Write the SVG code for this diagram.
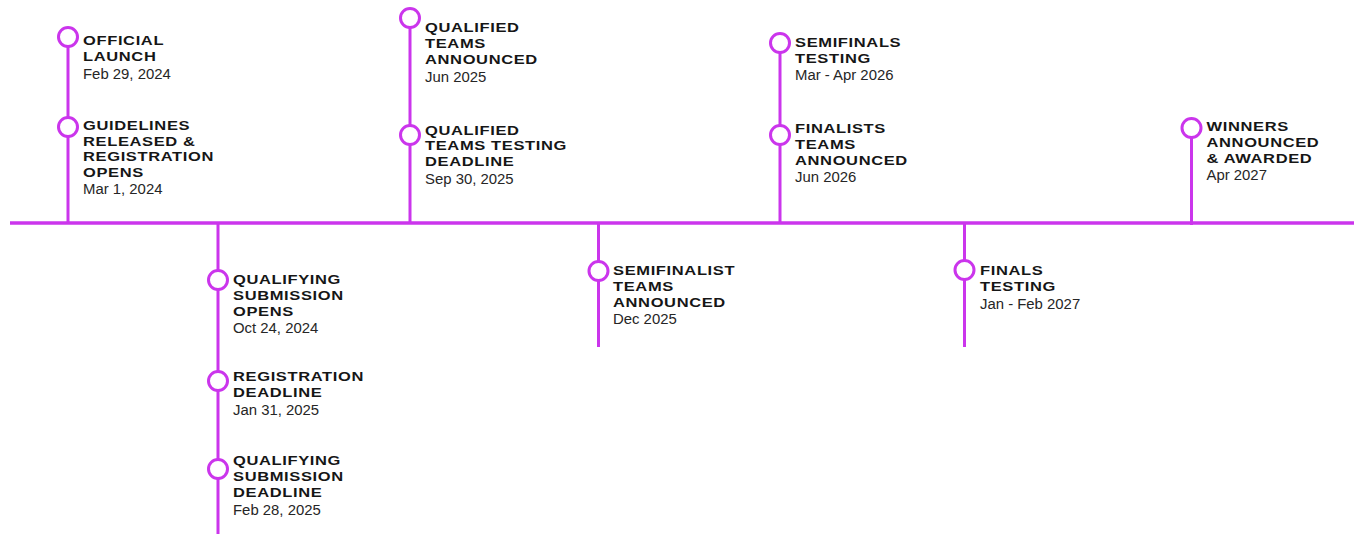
<svg xmlns="http://www.w3.org/2000/svg" width="1358" height="534" viewBox="0 0 1358 534">
<style>
.ln{stroke:#CB35EC;stroke-width:3;fill:none;stroke-linecap:butt}
.main{stroke:#CB35EC;stroke-width:3.5;fill:none}
.dot{fill:#fff;stroke:#CB35EC;stroke-width:3}
.t{font-family:"Liberation Sans",Arial,sans-serif;font-weight:bold;font-size:13px;letter-spacing:0.5px;fill:#161616}
.d{font-family:"Liberation Sans",Arial,sans-serif;font-size:14.9px;fill:#262626}
</style>
<rect width="1358" height="534" fill="#fff"/>
<g id="connectors">
<line class="main" x1="10" y1="223" x2="1354" y2="223"/>
<line class="ln" x1="68" y1="37" x2="68" y2="223"/>
<line class="ln" x1="218" y1="223" x2="218" y2="534"/>
<line class="ln" x1="410" y1="18" x2="410" y2="223"/>
<line class="ln" x1="598.5" y1="223" x2="598.5" y2="347"/>
<line class="ln" x1="780" y1="43" x2="780" y2="223"/>
<line class="ln" x1="964.5" y1="223" x2="964.5" y2="347"/>
<line class="ln" x1="1191.5" y1="128" x2="1191.5" y2="225"/>
</g>
<g id="n-official-launch">
<circle class="dot" cx="68" cy="37" r="9.5"/>
<text class="t" transform="translate(83,0) scale(1.27,1)"><tspan x="0" y="45.5">OFFICIAL</tspan><tspan x="0" y="61">LAUNCH</tspan></text>
<text class="d" x="83" y="79">Feb 29, 2024</text>
</g>
<g id="n-guidelines">
<circle class="dot" cx="68" cy="127" r="9.5"/>
<text class="t" transform="translate(83,0) scale(1.27,1)"><tspan x="0" y="130.5">GUIDELINES</tspan><tspan x="0" y="146">RELEASED &amp;</tspan><tspan x="0" y="161.5">REGISTRATION</tspan><tspan x="0" y="177">OPENS</tspan></text>
<text class="d" x="83" y="194">Mar 1, 2024</text>
</g>
<g id="n-qual-sub-opens">
<circle class="dot" cx="218" cy="280" r="9.5"/>
<text class="t" transform="translate(233,0) scale(1.27,1)"><tspan x="0" y="284">QUALIFYING</tspan><tspan x="0" y="300">SUBMISSION</tspan><tspan x="0" y="316">OPENS</tspan></text>
<text class="d" x="233" y="333">Oct 24, 2024</text>
</g>
<g id="n-reg-deadline">
<circle class="dot" cx="218" cy="381" r="9.5"/>
<text class="t" transform="translate(233,0) scale(1.27,1)"><tspan x="0" y="381.5">REGISTRATION</tspan><tspan x="0" y="397.5">DEADLINE</tspan></text>
<text class="d" x="233" y="415">Jan 31, 2025</text>
</g>
<g id="n-qual-sub-deadline">
<circle class="dot" cx="218" cy="469" r="9.5"/>
<text class="t" transform="translate(233,0) scale(1.27,1)"><tspan x="0" y="465">QUALIFYING</tspan><tspan x="0" y="481">SUBMISSION</tspan><tspan x="0" y="497">DEADLINE</tspan></text>
<text class="d" x="233" y="514.5">Feb 28, 2025</text>
</g>
<g id="n-qualified-announced">
<circle class="dot" cx="410" cy="18" r="9.5"/>
<text class="t" transform="translate(425,0) scale(1.27,1)"><tspan x="0" y="32.5">QUALIFIED</tspan><tspan x="0" y="48.5">TEAMS</tspan><tspan x="0" y="64.5">ANNOUNCED</tspan></text>
<text class="d" x="425" y="81.5">Jun 2025</text>
</g>
<g id="n-qualified-testing">
<circle class="dot" cx="410" cy="135" r="9.5"/>
<text class="t" transform="translate(425,0) scale(1.27,1)"><tspan x="0" y="135">QUALIFIED</tspan><tspan x="0" y="150.5">TEAMS TESTING</tspan><tspan x="0" y="166.5">DEADLINE</tspan></text>
<text class="d" x="425" y="184">Sep 30, 2025</text>
</g>
<g id="n-semifinalist-announced">
<circle class="dot" cx="598.5" cy="271" r="9.5"/>
<text class="t" transform="translate(613,0) scale(1.27,1)"><tspan x="0" y="275">SEMIFINALIST</tspan><tspan x="0" y="291.5">TEAMS</tspan><tspan x="0" y="307.5">ANNOUNCED</tspan></text>
<text class="d" x="613" y="324">Dec 2025</text>
</g>
<g id="n-semifinals-testing">
<circle class="dot" cx="780" cy="43" r="9.5"/>
<text class="t" transform="translate(795,0) scale(1.27,1)"><tspan x="0" y="47">SEMIFINALS</tspan><tspan x="0" y="63">TESTING</tspan></text>
<text class="d" x="795" y="80">Mar - Apr 2026</text>
</g>
<g id="n-finalists-announced">
<circle class="dot" cx="780" cy="135" r="9.5"/>
<text class="t" transform="translate(795,0) scale(1.27,1)"><tspan x="0" y="133">FINALISTS</tspan><tspan x="0" y="149">TEAMS</tspan><tspan x="0" y="165">ANNOUNCED</tspan></text>
<text class="d" x="795" y="182">Jun 2026</text>
</g>
<g id="n-finals-testing">
<circle class="dot" cx="964.5" cy="270" r="9.5"/>
<text class="t" transform="translate(980,0) scale(1.27,1)"><tspan x="0" y="275">FINALS</tspan><tspan x="0" y="291.5">TESTING</tspan></text>
<text class="d" x="980" y="309">Jan - Feb 2027</text>
</g>
<g id="n-winners">
<circle class="dot" cx="1191.5" cy="128" r="9.5"/>
<text class="t" transform="translate(1206.5,0) scale(1.27,1)"><tspan x="0" y="131">WINNERS</tspan><tspan x="0" y="147">ANNOUNCED</tspan><tspan x="0" y="163">&amp; AWARDED</tspan></text>
<text class="d" x="1206.5" y="180">Apr 2027</text>
</g>
</svg>
